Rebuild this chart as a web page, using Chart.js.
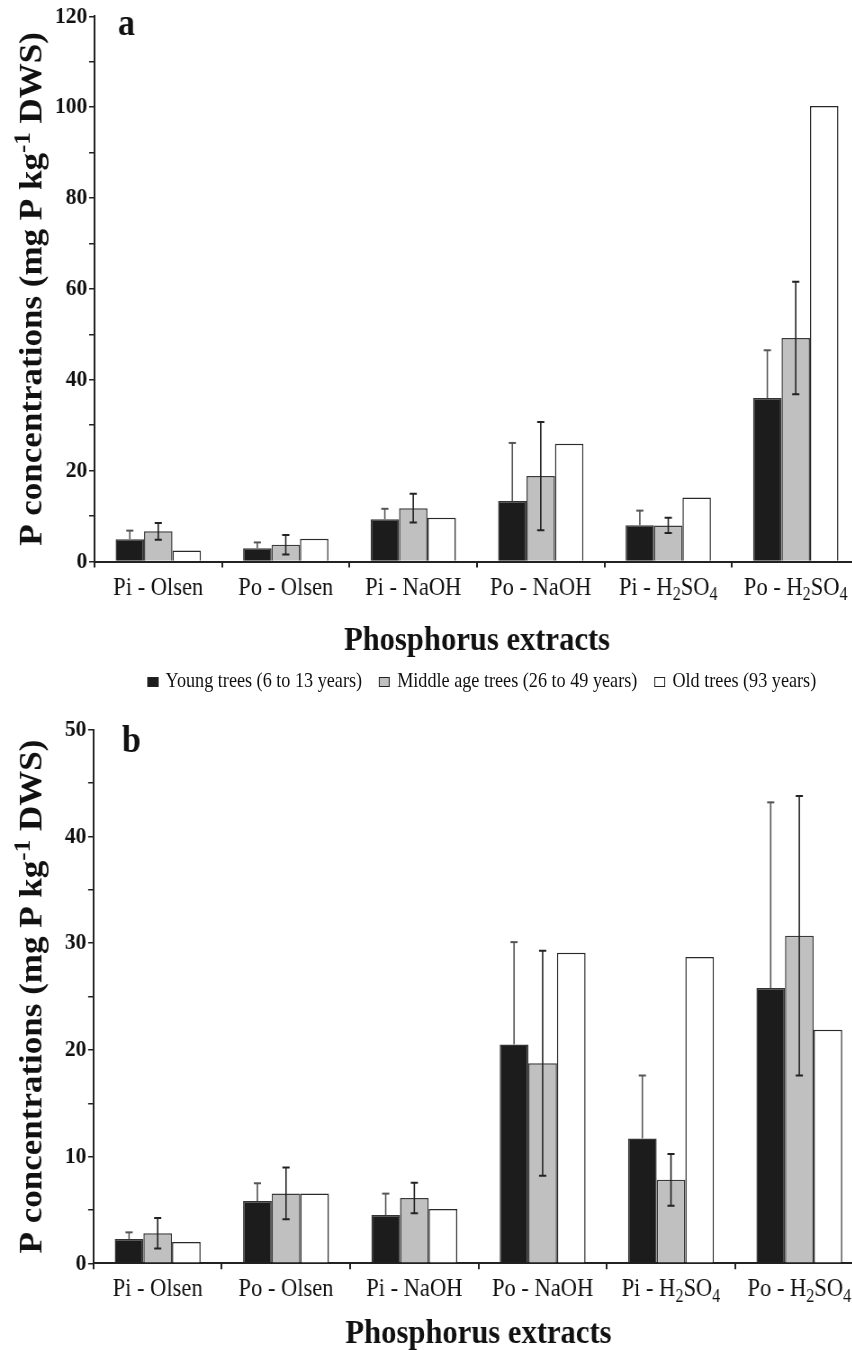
<!DOCTYPE html>
<html>
<head>
<meta charset="utf-8">
<script src="https://cdn.jsdelivr.net/npm/chart.js@4.4.1/dist/chart.umd.min.js"></script>
<style>
  html, body { margin: 0; padding: 0; background: #fff; overflow: hidden; }
  /* figure is laid out wide and squeezed horizontally, like the printed plate */
  #page { position: relative; width: 962px; height: 1360px; transform: scaleX(0.9); transform-origin: 0 0; }
  .panel { position: absolute; left: 0; width: 962px; }
  #panelA { top: 0; height: 662px; }
  #panelB { top: 700px; height: 655px; }
  #legend { position: absolute; top: 669px; left: 164px; height: 22px; display: flex; align-items: center;
            font: 20.2px 'Liberation Serif', 'Times New Roman', serif; color: #111; white-space: nowrap; }
  .item { display: flex; align-items: center; margin-right: 19px; }
  .swatch { width: 12px; height: 10px; border: 1px solid #222; box-sizing: border-box; margin-right: 8px; margin-top: 3px; }
</style>
</head>
<body>
<div id="page">
  <div class="panel" id="panelA"><canvas id="chartA"></canvas></div>
  <div id="legend"></div>
  <div class="panel" id="panelB"><canvas id="chartB"></canvas></div>
</div>
<script>
// categories and series
const categories = ['Pi - Olsen', 'Po - Olsen', 'Pi - NaOH', 'Po - NaOH', 'Pi - H₂SO₄', 'Po - H₂SO₄'];
const seriesNames = ['Young trees (6 to 13 years)', 'Middle age trees (26 to 49 years)', 'Old trees (93 years)'];
const xTitle = 'Phosphorus extracts';
const yTitle = [['P concentrations (mg P kg', 0], ['-1', 1], [' DWS)', 0]];

// panel a
const youngA = [4.9, 2.9, 9.3, 13.3, 8.0, 36.0];
const middleA = [6.65, 3.7, 11.75, 18.8, 7.95, 49.2];
const oldA = [2.4, 5.0, 9.65, 25.9, 14.1, 100.3];
const youngErrA = [1.9, 1.3, 2.3, 12.8, 3.2, 10.5];
const middleErrA = [1.85, 2.15, 3.15, 11.9, 1.7, 12.4];

// panel b
const youngB = [2.28, 5.84, 4.53, 20.5, 11.7, 25.8];
const middleB = [2.82, 6.55, 6.12, 18.75, 7.82, 30.7];
const oldB = [2.0, 6.53, 5.1, 29.1, 28.7, 21.9];
const youngErrB = [0.62, 1.66, 2.0, 9.6, 5.9, 17.4];
const middleErrB = [1.43, 2.43, 1.43, 10.55, 2.42, 13.1];

const FONT = "'Liberation Serif', 'Times New Roman', serif";
const INK = '#111';
const fills = ['#1c1c1c', '#c0c0c0', '#ffffff'];
const edges = ['#333333', '#3a3a3a', '#2a2a2a'];
const whiskers = ['#555555', '#222222'];

Chart.defaults.font.family = FONT;
Chart.defaults.color = INK;

// split a label into normal / subscript / superscript runs
const SUBS = '₀₁₂₃₄₅₆₇₈₉';
function labelRuns(text) {
  const runs = [];
  for (const ch of text) {
    const k = SUBS.indexOf(ch);
    const shift = k >= 0 ? -1 : 0;
    const c = k >= 0 ? String(k) : ch;
    const last = runs[runs.length - 1];
    if (last && last[1] === shift) last[0] += c; else runs.push([c, shift]);
  }
  return runs;
}

// draws runs centred on x at the given baseline; shift 1 = superscript, -1 = subscript
function drawRuns(ctx, runs, x, baseline, size, weight) {
  const fontFor = r => `${weight} ${r[1] ? Math.round(size * 0.7) : size}px ${FONT}`;
  let total = 0;
  runs.forEach(r => { ctx.font = fontFor(r); total += ctx.measureText(r[0]).width; });
  let cx = x - total / 2;
  ctx.textAlign = 'left';
  ctx.textBaseline = 'alphabetic';
  runs.forEach(r => {
    ctx.font = fontFor(r);
    const dy = r[1] === 1 ? -size * 0.38 : r[1] === -1 ? size * 0.22 : 0;
    ctx.fillText(r[0], cx, baseline + dy);
    cx += ctx.measureText(r[0]).width;
  });
}

const errorBars = {
  id: 'errorBars',
  afterDatasetsDraw(chart) {
    const ctx = chart.ctx, y = chart.scales.y;
    chart.data.datasets.forEach((ds, d) => {
      if (!ds.errors) return;
      const meta = chart.getDatasetMeta(d);
      ctx.save();
      ctx.strokeStyle = ds.whiskerColor;
      meta.data.forEach((bar, i) => {
        const v = ds.data[i], e = ds.errors[i];
        const top = y.getPixelForValue(v + e);
        const low = ds.upperOnly ? y.getPixelForValue(v) : y.getPixelForValue(v - e);
        ctx.lineWidth = 1.6;
        ctx.beginPath();
        ctx.moveTo(bar.x, top); ctx.lineTo(bar.x, low);
        ctx.stroke();
        ctx.lineWidth = 2;
        ctx.beginPath();
        ctx.moveTo(bar.x - 4, top); ctx.lineTo(bar.x + 4, top);
        if (!ds.upperOnly) { ctx.moveTo(bar.x - 4, low); ctx.lineTo(bar.x + 4, low); }
        ctx.stroke();
      });
      ctx.restore();
    });
  }
};

// category labels with subscripts, rotated y title and the panel letter
const panelText = {
  id: 'panelText',
  afterDraw(chart, args, opts) {
    const ctx = chart.ctx, x = chart.scales.x, area = chart.chartArea;
    ctx.save();
    ctx.fillStyle = INK;
    chart.data.labels.forEach((lab, i) => {
      drawRuns(ctx, labelRuns(lab), x.getPixelForValue(i), area.bottom + 33, 25, 'normal');
    });
    ctx.save();
    ctx.translate(46, (area.top + area.bottom) / 2);
    ctx.rotate(-Math.PI / 2);
    drawRuns(ctx, yTitle, 0, 0, 35, 'bold');
    ctx.restore();
    ctx.font = `bold 38px ${FONT}`;
    ctx.textAlign = 'left';
    ctx.textBaseline = 'alphabetic';
    ctx.fillText(opts.letter, area.left + opts.letterDx, area.top + opts.letterDy);
    ctx.restore();
  }
};

function buildPanel(id, cfg) {
  return new Chart(document.getElementById(id), {
    type: 'bar',
    data: {
      labels: categories,
      datasets: cfg.values.map((vals, k) => ({
        label: seriesNames[k],
        data: vals,
        errors: cfg.errors[k],
        upperOnly: k === 0,
        whiskerColor: whiskers[k],
        backgroundColor: fills[k],
        borderColor: edges[k],
        borderWidth: 1.5,
        categoryPercentage: 0.669,
        barPercentage: 1.0
      }))
    },
    options: {
      responsive: true,
      maintainAspectRatio: false,
      animation: false,
      layout: { padding: { top: cfg.padTop, right: cfg.padRight, bottom: 0, left: 0 } },
      plugins: {
        legend: { display: false },
        tooltip: { enabled: false },
        panelText: { letter: cfg.letter, letterDx: cfg.letterDx, letterDy: cfg.letterDy }
      },
      scales: {
        x: {
          grid: { display: true, drawOnChartArea: false, offset: true, tickLength: 6, color: '#222', lineWidth: 2 },
          border: { display: true, color: '#222', width: 2 },
          ticks: { display: false },
          title: { display: true, text: xTitle, color: INK, font: { size: 34, weight: 'bold' }, padding: { top: 0, bottom: 0 } },
          afterFit: s => { s.height = cfg.xHeight; }
        },
        y: {
          min: 0,
          max: cfg.max,
          grid: { display: true, drawOnChartArea: false, tickLength: 6, color: '#222', lineWidth: 1.5 },
          border: { display: true, color: '#222', width: 2 },
          ticks: {
            stepSize: 5,
            padding: 2,
            color: INK,
            font: { size: 24, weight: 'bold' },
            callback: v => (v % cfg.labelStep === 0 ? v : '')
          },
          afterFit: s => { s.width = cfg.yWidth; }
        }
      }
    },
    plugins: [errorBars, panelText]
  });
}

buildPanel('chartA', {
  values: [youngA, middleA, oldA],
  errors: [youngErrA, middleErrA, null],
  max: 120, labelStep: 20,
  padTop: 14.5, padRight: 7, yWidth: 105, xHeight: 100.5,
  letter: 'a', letterDx: 26, letterDy: 18.5
});

buildPanel('chartB', {
  values: [youngB, middleB, oldB],
  errors: [youngErrB, middleErrB, null],
  max: 50, labelStep: 10,
  padTop: 29.8, padRight: 2.6, yWidth: 103.9, xHeight: 91.7,
  letter: 'b', letterDx: 31.6, letterDy: 22
});

// shared legend between the two panels
const legend = document.getElementById('legend');
seriesNames.forEach((name, k) => {
  const item = document.createElement('span');
  item.className = 'item';
  item.innerHTML = `<span class="swatch" style="background:${fills[k]}"></span>${name}`;
  legend.appendChild(item);
});
</script>
</body>
</html>
